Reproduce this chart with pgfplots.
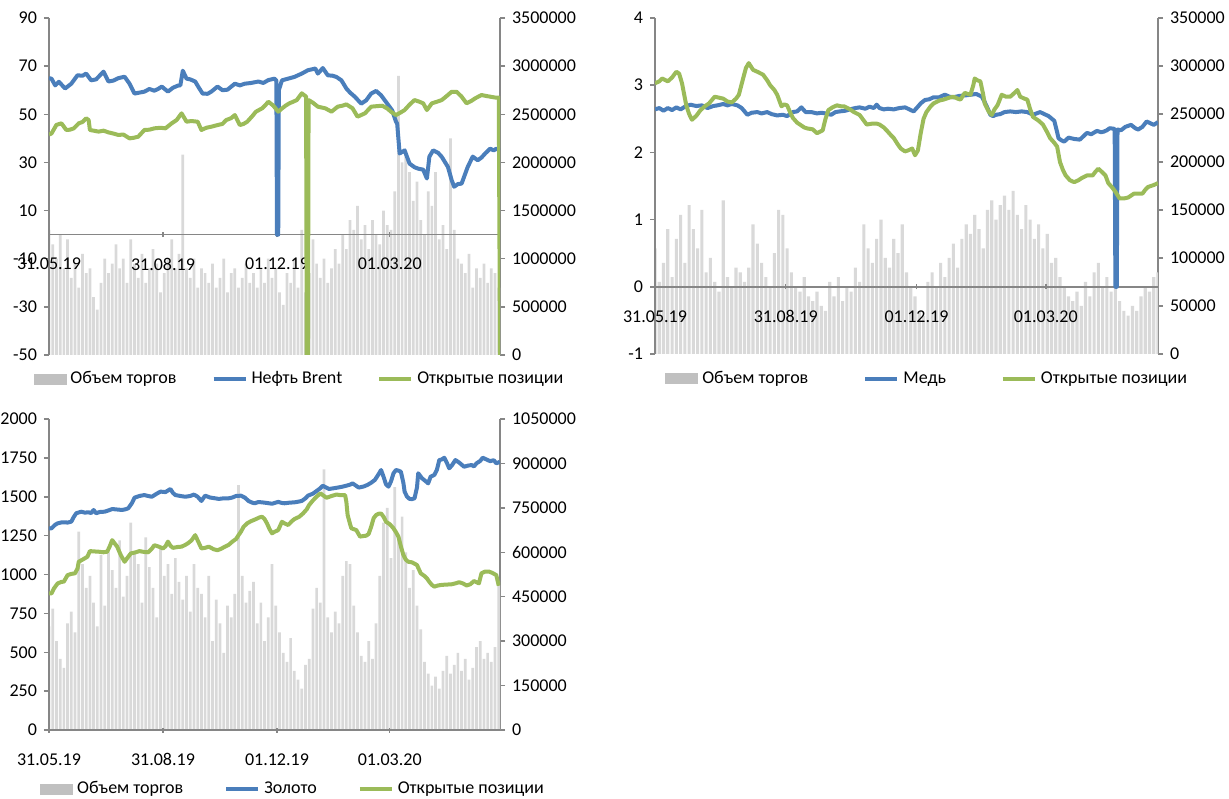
\documentclass[border=0pt]{standalone}
\usepackage{fontspec}
\setmainfont{Carlito}
\usepackage{pgfplots}
\pgfplotsset{compat=1.18}

\definecolor{cblue}{HTML}{4A7EBB}
\definecolor{cgreen}{HTML}{9BBB59}
\definecolor{cbar}{HTML}{D9D9D9}
\definecolor{cbarleg}{HTML}{C0C0C0}
\definecolor{caxis}{HTML}{868686}

\pgfplotsset{
  panel/.style={scale only axis, enlargelimits=false,
    tick align=outside, major tick length=2.5pt,
    axis line style={-, draw=caxis, line width=0.75pt},
    tick style={draw=caxis, line width=0.75pt},
    /pgf/number format/assume math mode=true,
    /pgf/number format/1000 sep={}},
  baraxis/.style={panel, axis x line=none, axis y line*=right, ymin=0},
  lineaxis/.style={panel, axis y line*=left, axis x line=middle,
    every inner x axis line/.append style={-},
    every outer x axis line/.append style={-},
    every inner y axis line/.append style={-},
    every outer y axis line/.append style={-},
    x axis line style={-},
    hide obscured x ticks=false,
    xtick={0,92,184,275},
    xticklabels={31.05.19,31.08.19,01.12.19,01.03.20},
    xticklabel style={yshift=-7pt}},
  topaxis/.style={panel, axis lines=none, ymin=0,
    legend columns=3, legend cell align=left,
    legend style={draw=none, fill=none, inner xsep=0pt, inner ysep=0pt, anchor=west}},
  bars/.style={ybar, bar width=2.2, draw=none, fill=cbar},
  bluel/.style={cblue, line width=2pt, line join=round},
  greenl/.style={cgreen, line width=2pt, line join=round},
  legline/.style={legend image code/.code={\draw[##1] (0pt,0pt) -- (16pt,0pt);}},
  legbar/.style={legend image code/.code={\fill[cbarleg] (0pt,-2.5pt) rectangle (16pt,2.5pt);}},
}

\begin{document}
\begin{tikzpicture}[font=\fontsize{9}{10.8}\selectfont]
\path[use as bounding box] (0,0) rectangle (614.5pt,399pt);

% ---------------- Brent ----------------
\begin{axis}[baraxis, at={(24.5pt,221.5pt)}, anchor=south west,
  width=225.5pt, height=168.5pt, xmin=0, xmax=364, ymax=3500,
  ytick={0,500,...,3500},
  yticklabels={0,500000,1000000,1500000,2000000,2500000,3000000,3500000}]
\addplot[bars] coordinates {
(0,1300)(3,1150)(6,1000)(9,1250)(12,900)(15,1200)(18,800)(21,950)(24,700)(27,1050)
(30,850)(33,900)(36,600)(39,470)(42,750)(45,1000)(48,850)(51,950)(54,1150)(57,900)
(60,1000)(63,750)(66,1200)(69,950)(72,800)(75,1050)(78,750)(81,900)(84,1100)(87,950)
(90,650)(93,850)(96,1000)(99,1200)(102,900)(105,1050)(108,2080)(111,900)(114,800)(117,1000)
(120,700)(123,900)(126,850)(129,750)(132,950)(135,700)(138,800)(141,1000)(144,650)(147,850)
(150,900)(153,700)(156,800)(159,950)(162,750)(165,850)(168,700)(171,900)(174,750)(177,1000)
(180,800)(183,900)(186,650)(189,520)(192,850)(195,750)(198,1000)(201,700)(204,1300)(207,650)
(210,850)(213,1200)(216,950)(219,800)(222,1000)(225,750)(228,900)(231,1100)(234,950)(237,1250)
(240,1100)(243,1400)(246,1300)(249,1550)(252,1200)(255,1350)(258,1100)(261,1400)(264,1250)(267,1150)
(270,1500)(273,1350)(276,1300)(279,1700)(282,2900)(285,2000)(288,2100)(291,1900)(294,1600)(297,1800)
(300,1400)(303,1250)(306,1700)(309,1550)(312,1900)(315,1200)(318,1350)(321,1100)(324,2250)(327,1300)
(330,1000)(333,950)(336,850)(339,1050)(342,700)(345,900)(348,800)(351,950)(354,750)(357,900)
(360,850)(363,700)
};
\end{axis}
\begin{axis}[lineaxis, at={(24.5pt,221.5pt)}, anchor=south west,
  width=225.5pt, height=168.5pt, xmin=0, xmax=364, ymin=-50, ymax=90,
  ytick={-50,-30,...,90}]
\addplot[bluel] coordinates {
(0,65)(2,64.8)(5,62)(8,63.5)(13,60.7)(18,62.7)(23,66.2)(27,66)(30,66.9)(34,64.1)
(38,64.5)(44,67.7)(48,63.6)(52,64)(56,65)(61,65.6)(65,62.7)(69,58.6)(73,59)(77,59.4)
(81,60.5)(85,59.8)(88,60.5)(91,61.5)(96,59.4)(100,61)(104,61.9)(106,62)(108,68.1)(111,64.8)
(114,64.5)(118,63.6)(121,61)(124,58.6)(128,58.5)(131,59.4)(136,61.5)(140,60)(144,60.2)(150,62.7)
(154,62)(158,62.7)(163,63)(169,63.6)(173,63)(177,64.2)(182,64.8)(183.5,64)(184,0)(185,0)
(185.5,60)(188,64.1)(193,64.8)(198,65.5)(204,66.9)(209,68.3)(215,69)(217,66.9)(221,69.2)(225,66.2)
(229,66)(232,65.5)(236,64.1)(240,60.7)(243,59)(247,57.2)(252,54.4)(256,55.8)(260,58.6)(264,59.7)
(268,57.9)(273,54.4)(277,51.6)(280,47)(281,46.1)(283,33.7)(287,35)(291,29.5)(295,28)(298,27.4)
(302,27)(305,23.3)(307,32.4)(310,35)(314,34)(317,32.3)(322,28.1)(325,22.6)(327,19.9)(330,21)
(333,21.2)(338,28.2)(342,32.4)(346,30.9)(349,32)(352,33.7)(356,35.7)(359,35)(361,35.7)(364,35)
};
\end{axis}
\begin{axis}[topaxis, at={(24.5pt,221.5pt)}, anchor=south west,
  width=225.5pt, height=168.5pt, xmin=0, xmax=364, ymax=3500,
  legend style={at={(rel axis cs:-0.035,-0.071)},
    /tikz/every even column/.append style={column sep=15.5pt}}]
\addlegendimage{legbar}\addlegendentry{Объем торгов}
\addlegendimage{bluel, legline}\addlegendentry{Нефть Brent}
\addplot[greenl, legline] coordinates {
(0,2290)(2,2300)(6,2390)(10,2406)(14,2337)(17,2340)(20,2354)(24,2406)(27,2420)(30,2458)
(32,2440)(33,2337)(36,2330)(40,2320)(44,2330)(48,2312)(52,2300)(56,2285)(60,2290)(65,2250)
(68,2255)(72,2267)(77,2337)(81,2340)(85,2354)(90,2360)(94,2354)(99,2406)(103,2440)(107,2510)
(111,2423)(115,2430)(120,2423)(123,2337)(127,2360)(131,2371)(136,2388)(140,2400)(143,2440)(147,2460)
(150,2492)(154,2388)(157,2400)(160,2423)(164,2480)(167,2527)(172,2562)(175,2600)(177,2631)(181,2590)
(185,2527)(188,2560)(191,2590)(194,2614)(197,2630)(200,2648)(204,2718)(207.5,2683)(208,0)(209,0)
(209.5,2648)(213,2620)(217,2579)(223,2562)(228,2527)(233,2579)(237,2590)(240,2603)(245,2562)(249,2475)
(255,2510)(260,2579)(265,2585)(269,2589)(273,2560)(276,2527)(280,2492)(284,2520)(287,2544)(291,2600)
(295,2648)(299,2630)(302,2614)(305,2544)(309,2614)(313,2630)(317,2648)(321,2690)(325,2734)(329,2734)
(333,2683)(337,2614)(341,2640)(344,2666)(349,2700)(353,2690)(356,2683)(361,2672)(363,2672)(364,0)
};
\addlegendentry{Открытые позиции}
\end{axis}

% ---------------- Copper ----------------
\begin{axis}[baraxis, at={(327.5pt,222pt)}, anchor=south west,
  width=251.5pt, height=168pt, xmin=0, xmax=354, ymax=350,
  ytick={0,50,...,350},
  yticklabels={0,50000,100000,150000,200000,250000,300000,350000}]
\addplot[bars] coordinates {
(0,110)(3,75)(6,95)(9,130)(12,80)(15,120)(18,145)(21,95)(24,155)(27,130)
(30,110)(33,150)(36,85)(39,100)(42,75)(45,65)(48,160)(51,80)(54,70)(57,90)
(60,85)(63,75)(66,90)(69,135)(72,115)(75,95)(78,80)(81,70)(84,105)(87,150)
(90,145)(93,110)(96,85)(99,70)(102,65)(105,80)(108,60)(111,55)(114,65)(117,50)
(120,45)(123,75)(126,60)(129,80)(132,55)(135,70)(138,65)(141,90)(144,75)(147,135)
(150,110)(153,95)(156,120)(159,140)(162,100)(165,90)(168,120)(171,105)(174,135)(177,85)
(180,70)(183,60)(186,45)(189,40)(192,75)(195,85)(198,70)(201,95)(204,80)(207,100)
(210,115)(213,90)(216,120)(219,135)(222,125)(225,145)(228,130)(231,110)(234,150)(237,160)
(240,140)(243,155)(246,165)(249,150)(252,170)(255,145)(258,130)(261,155)(264,140)(267,120)
(270,135)(273,110)(276,125)(279,95)(282,100)(285,80)(288,70)(291,60)(294,55)(297,65)
(300,50)(303,75)(306,60)(309,85)(312,95)(315,70)(318,80)(321,65)(324,150)(327,55)
(330,45)(333,40)(336,50)(339,45)(342,60)(345,70)(348,65)(351,80)(354,85)
};
\end{axis}
\begin{axis}[lineaxis, at={(327.5pt,222pt)}, anchor=south west,
  width=251.5pt, height=168pt, xmin=0, xmax=354, ymin=-1, ymax=4,
  ytick={-1,0,...,4}]
\addplot[bluel] coordinates {
(0,2.64)(3,2.66)(6,2.62)(9,2.66)(12,2.63)(15,2.67)(18,2.64)(21,2.68)(25,2.71)(29,2.69)
(33,2.7)(37,2.66)(41,2.69)(44,2.7)(48,2.72)(51,2.7)(54,2.72)(58,2.7)(61,2.66)(65,2.56)
(68,2.59)(72,2.6)(75,2.58)(79,2.6)(82,2.57)(86,2.55)(90,2.56)(93,2.54)(97,2.6)(100,2.61)
(103,2.67)(106,2.6)(110,2.6)(114,2.58)(117,2.59)(120,2.58)(124,2.56)(127,2.6)(130,2.61)(134,2.62)
(137,2.64)(141,2.66)(144,2.67)(148,2.65)(151,2.68)(154,2.66)(156,2.71)(158,2.66)(161,2.64)(164,2.65)
(168,2.64)(172,2.66)(176,2.67)(179,2.64)(182,2.61)(185,2.68)(187,2.73)(190,2.78)(193,2.79)(196,2.82)
(200,2.82)(204,2.86)(207,2.83)(210,2.82)(214,2.84)(219,2.85)(223,2.86)(226,2.87)(230,2.83)(232,2.75)
(234,2.66)(236,2.56)(238,2.54)(240,2.56)(243,2.57)(246,2.6)(250,2.61)(254,2.6)(258,2.61)(262,2.6)
(266,2.56)(271,2.6)(274,2.57)(277,2.54)(281,2.47)(283,2.3)(284,2.21)(286,2.18)(288,2.16)(291,2.22)
(295,2.2)(299,2.19)(302,2.25)(304,2.29)(307,2.27)(311,2.32)(314,2.3)(316,2.31)(318,2.33)(320,2.36)
(323.5,2.35)(324,0)(325,0)(325.5,2.34)(328,2.33)(331,2.38)(335,2.41)(338,2.36)(340,2.34)(343,2.38)
(346,2.46)(349,2.43)(351,2.41)(354,2.45)
};
\end{axis}
\begin{axis}[topaxis, at={(327.5pt,222pt)}, anchor=south west,
  width=251.5pt, height=168pt, xmin=0, xmax=354, ymax=350,
  legend style={at={(rel axis cs:0.02,-0.074)},
    /tikz/every even column/.append style={column sep=25.5pt}}]
\addlegendimage{legbar}\addlegendentry{Объем торгов}
\addlegendimage{bluel, legline}\addlegendentry{Медь}
\addplot[greenl, legline] coordinates {
(0,282)(3,284)(5,287)(9,284)(12,288)(15,294)(17,292)(19,282)(22,259)(24,250)
(26,244)(29,248)(32,254)(35,258)(38,261)(42,268)(45,267)(48,266)(51,263)(54,262)
(57,266)(59,270)(62,287)(64,298)(66,303)(69,296)(72,294)(76,291)(79,285)(81,280)
(84,275)(86,270)(89,258)(91,260)(93,259)(95,252)(97,246)(100,241)(102,239)(105,236)
(107,235)(111,234)(114,230)(118,233)(120,245)(122,254)(125,257)(128,259)(131,258)(133,258)
(137,255)(140,252)(144,249)(147,243)(149,239)(153,240)(156,240)(158,239)(161,236)(163,233)
(166,228)(168,225)(171,218)(173,214)(176,211)(178,212)(181,214)(183,207)(185,212)(187,230)
(189,245)(191,252)(194,258)(196,261)(200,264)(203,265)(207,267)(210,268)(213,266)(215,265)
(218,272)(222,270)(224,280)(225,287)(227,285)(229,284)(231,270)(232,261)(235,252)(237,249)
(239,255)(241,259)(244,270)(247,268)(250,268)(253,272)(255,275)(257,268)(260,266)(262,265)
(264,255)(266,247)(270,243)(273,239)(276,231)(278,225)(281,220)(283,216)(285,200)(287,192)
(289,186)(292,181)(295,179)(298,181)(300,183)(304,186)(308,186)(310,190)(312,193)(315,189)
(317,186)(319,178)(322,173)(324,169)(327,162)(330,162)(333,163)(337,167)(340,167)(343,167)
(345,171)(347,174)(351,176)(354,178)
};
\addlegendentry{Открытые позиции}
\end{axis}

% ---------------- Gold ----------------
\begin{axis}[baraxis, at={(24.5pt,34pt)}, anchor=south west,
  width=225.5pt, height=155.5pt, xmin=0, xmax=364, ymax=1050,
  ytick={0,150,...,1050},
  yticklabels={0,150000,300000,450000,600000,750000,900000,1050000}]
\addplot[bars] coordinates {
(0,350)(3,410)(6,300)(9,240)(12,210)(15,360)(18,400)(21,330)(24,670)(27,560)
(30,480)(33,520)(36,430)(39,350)(42,590)(45,420)(48,600)(51,540)(54,480)(57,640)
(60,450)(63,520)(66,700)(69,600)(72,560)(75,430)(78,650)(81,550)(84,480)(87,380)
(90,620)(93,520)(96,560)(99,460)(102,580)(105,500)(108,440)(111,520)(114,400)(117,560)
(120,480)(123,460)(126,380)(129,520)(132,300)(135,440)(138,360)(141,260)(144,420)(147,380)
(150,460)(153,827)(156,520)(159,430)(162,470)(165,500)(168,360)(171,430)(174,300)(177,380)
(180,560)(183,420)(186,330)(189,260)(192,230)(195,310)(198,200)(201,170)(204,140)(207,220)
(210,240)(213,410)(216,480)(219,430)(222,880)(225,380)(228,330)(231,400)(234,360)(237,520)
(240,570)(243,560)(246,420)(249,330)(252,250)(255,230)(258,300)(261,240)(264,360)(267,520)
(270,700)(273,750)(276,580)(279,820)(282,650)(285,720)(288,600)(291,480)(294,540)(297,420)
(300,340)(303,230)(306,190)(309,150)(312,180)(315,140)(318,200)(321,250)(324,190)(327,220)
(330,260)(333,200)(336,240)(339,170)(342,210)(345,280)(348,300)(351,240)(354,260)(357,230)
(360,280)(363,490)
};
\end{axis}
\begin{axis}[lineaxis, at={(24.5pt,34pt)}, anchor=south west,
  width=225.5pt, height=155.5pt, xmin=0, xmax=364, ymin=0, ymax=2000,
  ytick={0,250,...,2000}]
\addplot[bluel] coordinates {
(0,1297)(2,1297)(5,1320)(7,1329)(10,1335)(12,1336)(15,1334)(18,1340)(20,1370)(22,1394)
(26,1404)(29,1398)(32,1400)(34,1395)(36,1415)(38,1394)(41,1402)(45,1404)(48,1412)(51,1421)
(55,1418)(59,1415)(62,1420)(64,1426)(67,1460)(69,1494)(73,1505)(77,1511)(80,1505)(83,1500)
(87,1520)(90,1533)(94,1530)(96,1540)(98,1550)(100,1525)(102,1511)(106,1505)(110,1500)(114,1505)
(117,1514)(120,1500)(123,1473)(126,1507)(130,1495)(134,1490)(137,1486)(141,1490)(145,1490)(148,1495)
(151,1505)(155,1507)(158,1495)(161,1473)(164,1462)(166,1458)(169,1466)(172,1464)(176,1460)(180,1455)
(185,1467)(188,1460)(190,1458)(194,1462)(198,1464)(201,1468)(204,1473)(207,1490)(209,1507)(213,1520)
(217,1543)(219,1555)(221,1571)(223,1562)(226,1550)(230,1555)(233,1559)(237,1565)(240,1571)(243,1578)
(245,1586)(248,1570)(250,1559)(254,1566)(257,1576)(260,1590)(263,1608)(266,1645)(268,1672)(270,1629)
(272,1580)(274,1565)(276,1598)(278,1650)(280,1672)(282,1668)(284,1661)(286,1590)(287,1533)(289,1500)
(291,1486)(293,1485)(295,1490)(297,1560)(298,1651)(301,1619)(304,1600)(306,1586)(308,1629)(311,1640)
(313,1672)(315,1736)(317,1740)(319,1751)(321,1720)(323,1683)(325,1700)(328,1736)(331,1720)(335,1693)
(338,1700)(341,1704)(343,1695)(345,1715)(348,1730)(350,1751)(353,1740)(356,1729)(359,1735)(361,1715)
(364,1725)
};
\end{axis}
\begin{axis}[topaxis, at={(24.5pt,34pt)}, anchor=south west,
  width=225.5pt, height=155.5pt, xmin=0, xmax=364, ymax=1050,
  legend style={at={(rel axis cs:-0.02,-0.19)},
    /tikz/every even column/.append style={column sep=18.5pt}}]
\addlegendimage{legbar}\addlegendentry{Объем торгов}
\addlegendimage{bluel, legline}\addlegendentry{Золото}
\addplot[greenl, legline] coordinates {
(0,461)(2,461)(4,478)(7,495)(10,500)(12,501)(15,523)(18,527)(21,529)(23,545)
(24,568)(27,575)(29,580)(31,585)(33,604)(36,603)(40,602)(44,600)(47,602)(49,620)
(51,641)(53,630)(55,619)(58,590)(61,568)(64,585)(66,596)(70,600)(73,604)(77,601)
(80,600)(83,612)(85,624)(88,620)(92,613)(94,620)(96,636)(98,622)(100,615)(104,618)
(107,619)(110,625)(112,630)(115,640)(118,658)(120,640)(123,613)(126,615)(129,619)(133,610)
(136,607)(139,612)(142,619)(145,625)(148,636)(151,645)(153,658)(155,670)(157,686)(160,698)
(163,705)(167,712)(170,718)(172,720)(174,712)(176,697)(178,678)(180,664)(182,669)(185,675)
(188,703)(190,698)(193,692)(196,705)(198,712)(202,720)(205,731)(208,745)(210,760)(213,775)
(216,788)(219,799)(222,790)(224,784)(228,790)(232,795)(235,793)(239,793)(240,770)(241,726)
(243,695)(244,681)(248,675)(251,653)(254,655)(256,656)(258,662)(260,686)(262,715)(264,726)
(266,730)(268,731)(270,720)(272,703)(275,695)(278,681)(280,668)(282,653)(284,620)(286,591)
(288,575)(290,568)(293,566)(297,557)(300,529)(303,520)(305,512)(307,500)(309,490)(311,484)
(314,488)(317,490)(321,491)(325,492)(328,495)(331,499)(334,495)(337,488)(340,492)(343,503)
(345,499)(347,495)(349,529)(352,535)(355,535)(358,530)(361,523)(363,487)
};
\addlegendentry{Открытые позиции}
\end{axis}
\end{tikzpicture}
\end{document}
